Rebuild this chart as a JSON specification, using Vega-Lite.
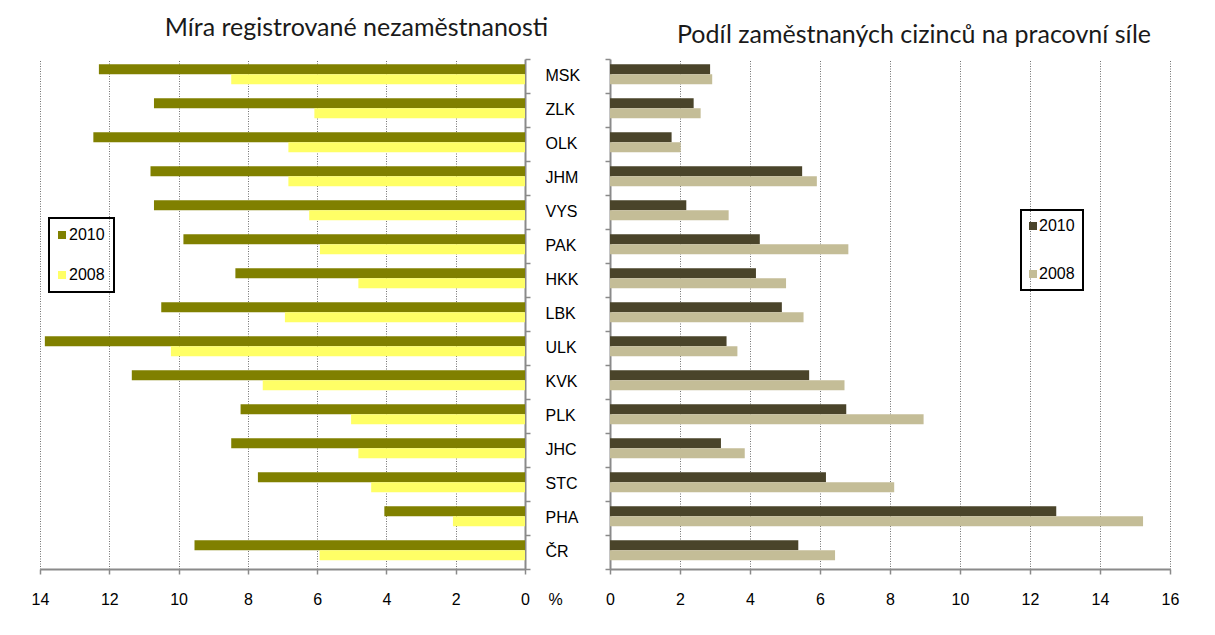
{
  "$schema": "https://vega.github.io/schema/vega-lite/v6.json",
  "background": "white",
  "padding": {"left": 31, "top": 16, "right": 20, "bottom": 5},
  "datasets": {
    "unemp": [
      {"kraj": "MSK", "rok": "2010", "value": 12.3}, {"kraj": "MSK", "rok": "2008", "value": 8.48},
      {"kraj": "ZLK", "rok": "2010", "value": 10.71}, {"kraj": "ZLK", "rok": "2008", "value": 6.08},
      {"kraj": "OLK", "rok": "2010", "value": 12.46}, {"kraj": "OLK", "rok": "2008", "value": 6.83},
      {"kraj": "JHM", "rok": "2010", "value": 10.81}, {"kraj": "JHM", "rok": "2008", "value": 6.83},
      {"kraj": "VYS", "rok": "2010", "value": 10.71}, {"kraj": "VYS", "rok": "2008", "value": 6.23},
      {"kraj": "PAK", "rok": "2010", "value": 9.86}, {"kraj": "PAK", "rok": "2008", "value": 5.92},
      {"kraj": "HKK", "rok": "2010", "value": 8.36}, {"kraj": "HKK", "rok": "2008", "value": 4.81},
      {"kraj": "LBK", "rok": "2010", "value": 10.5}, {"kraj": "LBK", "rok": "2008", "value": 6.93},
      {"kraj": "ULK", "rok": "2010", "value": 13.86}, {"kraj": "ULK", "rok": "2008", "value": 10.22},
      {"kraj": "KVK", "rok": "2010", "value": 11.35}, {"kraj": "KVK", "rok": "2008", "value": 7.57},
      {"kraj": "PLK", "rok": "2010", "value": 8.21}, {"kraj": "PLK", "rok": "2008", "value": 5.02},
      {"kraj": "JHC", "rok": "2010", "value": 8.48}, {"kraj": "JHC", "rok": "2008", "value": 4.81},
      {"kraj": "STC", "rok": "2010", "value": 7.71}, {"kraj": "STC", "rok": "2008", "value": 4.44},
      {"kraj": "PHA", "rok": "2010", "value": 4.06}, {"kraj": "PHA", "rok": "2008", "value": 2.08},
      {"kraj": "ČR", "rok": "2010", "value": 9.54}, {"kraj": "ČR", "rok": "2008", "value": 5.93}
    ],
    "foreign": [
      {"kraj": "MSK", "rok": "2010", "value": 2.86}, {"kraj": "MSK", "rok": "2008", "value": 2.92},
      {"kraj": "ZLK", "rok": "2010", "value": 2.39}, {"kraj": "ZLK", "rok": "2008", "value": 2.59},
      {"kraj": "OLK", "rok": "2010", "value": 1.76}, {"kraj": "OLK", "rok": "2008", "value": 2.02},
      {"kraj": "JHM", "rok": "2010", "value": 5.49}, {"kraj": "JHM", "rok": "2008", "value": 5.91},
      {"kraj": "VYS", "rok": "2010", "value": 2.18}, {"kraj": "VYS", "rok": "2008", "value": 3.39},
      {"kraj": "PAK", "rok": "2010", "value": 4.28}, {"kraj": "PAK", "rok": "2008", "value": 6.81},
      {"kraj": "HKK", "rok": "2010", "value": 4.17}, {"kraj": "HKK", "rok": "2008", "value": 5.03},
      {"kraj": "LBK", "rok": "2010", "value": 4.91}, {"kraj": "LBK", "rok": "2008", "value": 5.53},
      {"kraj": "ULK", "rok": "2010", "value": 3.33}, {"kraj": "ULK", "rok": "2008", "value": 3.64},
      {"kraj": "KVK", "rok": "2010", "value": 5.69}, {"kraj": "KVK", "rok": "2008", "value": 6.7},
      {"kraj": "PLK", "rok": "2010", "value": 6.75}, {"kraj": "PLK", "rok": "2008", "value": 8.96},
      {"kraj": "JHC", "rok": "2010", "value": 3.17}, {"kraj": "JHC", "rok": "2008", "value": 3.85},
      {"kraj": "STC", "rok": "2010", "value": 6.17}, {"kraj": "STC", "rok": "2008", "value": 8.12},
      {"kraj": "PHA", "rok": "2010", "value": 12.75}, {"kraj": "PHA", "rok": "2008", "value": 15.23},
      {"kraj": "ČR", "rok": "2010", "value": 5.38}, {"kraj": "ČR", "rok": "2008", "value": 6.43}
    ]
  },
  "spacing": 85,
  "bounds": "flush",
  "config": {
    "view": {"stroke": null},
    "axis": {
      "labelFont": "Liberation Sans", "labelFontSize": 16, "labelColor": "#000",
      "domainColor": "#8a8a8a", "domainWidth": 2, "tickColor": "#8a8a8a", "tickWidth": 1.5, "tickSize": 5,
      "gridColor": "#707070", "gridDash": [1, 1.5], "gridWidth": 1
    },
    "legend": {
      "orient": "none", "strokeColor": "#000", "strokeWidth": 2,
      "symbolType": "square", "symbolSize": 64, "symbolStrokeWidth": 0,
      "labelFont": "Liberation Sans", "labelFontSize": 16, "labelColor": "#000"
    },
    "title": {"font": "Lato", "fontSize": 25, "fontWeight": "normal", "color": "#1a1a1a", "baseline": "alphabetic", "offset": 10}
  },
  "hconcat": [
    {
      "width": 485, "height": 510,
      "data": {"name": "unemp"},
      "title": {"text": "Míra registrované nezaměstnanosti", "dx": 74},
      "mark": {"type": "bar"},
      "encoding": {
        "y": {
          "field": "kraj", "type": "nominal",
          "sort": ["MSK", "ZLK", "OLK", "JHM", "VYS", "PAK", "HKK", "LBK", "ULK", "KVK", "PLK", "JHC", "STC", "PHA", "ČR"],
          "scale": {"paddingInner": 0, "paddingOuter": 0},
          "axis": {"orient": "right", "title": null, "bandPosition": 1, "tickExtra": true, "labelPadding": 15, "labelAlign": "left", "grid": false}
        },
        "yOffset": {"field": "rok", "sort": ["2010", "2008"], "scale": {"paddingInner": 0, "paddingOuter": 0.7, "align": 0.38}},
        "x": {
          "field": "value", "type": "quantitative",
          "scale": {"domain": [0, 14], "reverse": true, "nice": false},
          "axis": {"values": [0, 2, 4, 6, 8, 10, 12, 14], "labelFlush": false, "labelPadding": 17, "labelBaseline": "top",
                   "title": "%", "titleX": 515, "titleY": 30, "titleFont": "Liberation Sans", "titleFontSize": 16, "titleFontWeight": "normal", "titleColor": "#000", "titleAlign": "center", "titleBaseline": "middle"}
        },
        "color": {
          "field": "rok", "type": "nominal",
          "scale": {"domain": ["2010", "2008"], "range": ["#808000", "#FFFF66"]},
          "legend": {"title": null, "legendX": 9, "legendY": 159, "padding": 9, "rowPadding": 24, "symbolOffset": -4, "labelOffset": -1}
        }
      }
    },
    {
      "width": 560, "height": 510,
      "data": {"name": "foreign"},
      "title": {"text": "Podíl zaměstnaných cizinců na pracovní síle", "dx": 24},
      "mark": {"type": "bar"},
      "encoding": {
        "y": {
          "field": "kraj", "type": "nominal",
          "sort": ["MSK", "ZLK", "OLK", "JHM", "VYS", "PAK", "HKK", "LBK", "ULK", "KVK", "PLK", "JHC", "STC", "PHA", "ČR"],
          "scale": {"paddingInner": 0, "paddingOuter": 0},
          "axis": {"orient": "left", "title": null, "bandPosition": 1, "tickExtra": true, "labels": false, "grid": false}
        },
        "yOffset": {"field": "rok", "sort": ["2010", "2008"], "scale": {"paddingInner": 0, "paddingOuter": 0.86, "align": 0.72}},
        "x": {
          "field": "value", "type": "quantitative",
          "scale": {"domain": [0, 16], "nice": false},
          "axis": {"values": [0, 2, 4, 6, 8, 10, 12, 14, 16], "labelFlush": false, "labelPadding": 17, "labelBaseline": "top", "title": null}
        },
        "color": {
          "field": "rok", "type": "nominal",
          "scale": {"domain": ["2010", "2008"], "range": ["#4A442A", "#C4BD97"]},
          "legend": {"title": null, "legendX": 411, "legendY": 151, "padding": 8, "rowPadding": 32, "symbolOffset": -4, "labelOffset": -2}
        }
      }
    }
  ],
  "resolve": {"scale": {"color": "independent", "x": "independent", "y": "independent"}, "legend": {"color": "independent"}}
}
